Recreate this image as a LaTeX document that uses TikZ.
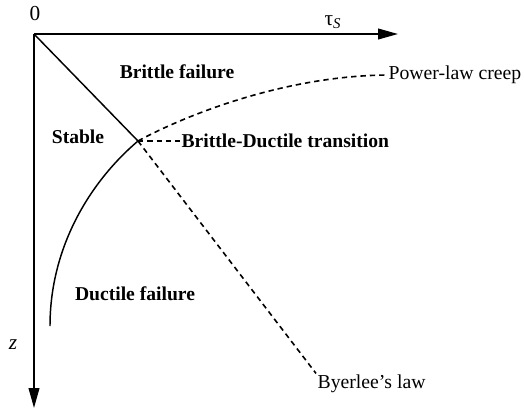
\documentclass[tikz,border=0pt]{standalone}
\usepackage{fontspec}
\setmainfont{Liberation Serif}
\usetikzlibrary{arrows.meta,positioning}
\tikzset{
  axis/.style   ={line width=1.4pt, -{Triangle[length=15pt,width=8pt]}},
  bound/.style  ={line width=1.1pt},
  law/.style    ={line width=1.2pt, dash pattern=on 4pt off 3pt},
  region/.style ={font=\fontsize{14.7}{17}\selectfont\bfseries},
  lawlbl/.style ={font=\fontsize{14.8}{17}\selectfont, anchor=west, inner sep=1pt},
  axlbl/.style  ={font=\fontsize{16}{18}\selectfont},
}

\begin{document}
\begin{tikzpicture}[x=0.75pt, y=-0.75pt]
\useasboundingbox (0,0) rectangle (524,412);

% ---- axes ----
\coordinate (O) at (34,34);
\coordinate (tauend) at (398,34);
\coordinate (zend) at (34,408);
\draw[axis] (O) -- (tauend);
\draw[axis] (O) -- (zend);
\node[axlbl] (zero) at (35,14) {0};
\node[axlbl] (tau) at (333,22) {τ\textsubscript{\textit{S}}};
\node[axlbl] (z) at (13,345) {\textit{z}};

% ---- boundaries ----
\coordinate (bdt) at (138,141);
\coordinate (dbot) at (50,326);
\draw[bound] (O) -- (bdt);
\draw[bound] (bdt) .. controls (92,180) and (50,245) .. (dbot);

% ---- laws ----
\node[lawlbl] (creep) at (387,75) {Power-law creep};
\node[lawlbl] (byer) at (316,384) {Byerlee's law};
\node[region, anchor=west, inner sep=1pt] (trans) at (180,141) {Brittle-Ductile transition};
\draw[law] (bdt) .. controls (180,118) and (280,76) .. (creep.west);
\draw[law] (bdt) -- (byer.north west);
\draw[law] (bdt) -- (trans.west);

% ---- regions ----
\node[region] (brittle) at (177,72) {Brittle failure};
\node[region] (stable) at (78,137) {Stable};
\node[region] (ductile) at (135,294) {Ductile failure};

\end{tikzpicture}
\end{document}
